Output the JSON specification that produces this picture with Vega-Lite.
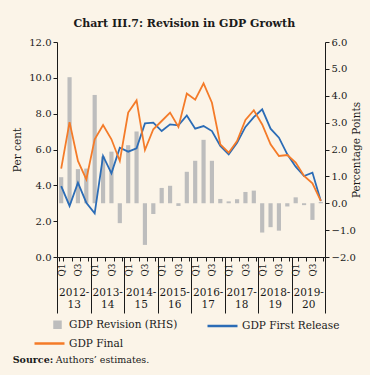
{
  "$schema": "https://vega.github.io/schema/vega-lite/v6.json",
  "background": "#FBF4E8",
  "padding": {"left": 12, "top": 18, "right": 8, "bottom": 4},
  "title": {"text": "Chart III.7: Revision in GDP Growth", "fontSize": 11, "fontWeight": "bold", "font": "DejaVu Serif", "anchor": "middle", "offset": 8, "dx": -3, "color": "#1a1a1a"},
  "spacing": 6,
  "resolve": {"scale": {"color": "independent"}, "legend": {"color": "independent"}},
  "vconcat": [
    {
      "width": 268,
      "height": 215,
      "data": {"values": [
        {"q": "2012-13 Q1", "year": "2012-13", "first": 3.96, "final": 4.93, "rev": 0.97},
        {"q": "2012-13 Q2", "year": "2012-13", "first": 2.85, "final": 7.53, "rev": 4.69},
        {"q": "2012-13 Q3", "year": "2012-13", "first": 4.15, "final": 5.36, "rev": 1.27},
        {"q": "2012-13 Q4", "year": "2012-13", "first": 3.03, "final": 4.33, "rev": 1.29},
        {"q": "2013-14 Q1", "year": "2013-14", "first": 2.44, "final": 6.57, "rev": 4.03},
        {"q": "2013-14 Q2", "year": "2013-14", "first": 5.64, "final": 7.37, "rev": 1.74},
        {"q": "2013-14 Q3", "year": "2013-14", "first": 4.67, "final": 6.57, "rev": 1.92},
        {"q": "2013-14 Q4", "year": "2013-14", "first": 6.1, "final": 5.36, "rev": -0.74},
        {"q": "2014-15 Q1", "year": "2014-15", "first": 5.88, "final": 8.06, "rev": 2.16},
        {"q": "2014-15 Q2", "year": "2014-15", "first": 6.07, "final": 8.74, "rev": 2.67},
        {"q": "2014-15 Q3", "year": "2014-15", "first": 7.46, "final": 5.97, "rev": -1.55},
        {"q": "2014-15 Q4", "year": "2014-15", "first": 7.5, "final": 7.13, "rev": -0.4},
        {"q": "2015-16 Q1", "year": "2015-16", "first": 7.03, "final": 7.59, "rev": 0.57},
        {"q": "2015-16 Q2", "year": "2015-16", "first": 7.4, "final": 8.06, "rev": 0.65},
        {"q": "2015-16 Q3", "year": "2015-16", "first": 7.35, "final": 7.26, "rev": -0.1},
        {"q": "2015-16 Q4", "year": "2015-16", "first": 7.9, "final": 9.12, "rev": 1.17},
        {"q": "2016-17 Q1", "year": "2016-17", "first": 7.16, "final": 8.78, "rev": 1.58},
        {"q": "2016-17 Q2", "year": "2016-17", "first": 7.31, "final": 9.69, "rev": 2.36},
        {"q": "2016-17 Q3", "year": "2016-17", "first": 7.03, "final": 8.61, "rev": 1.58},
        {"q": "2016-17 Q4", "year": "2016-17", "first": 6.2, "final": 6.29, "rev": 0.16},
        {"q": "2017-18 Q1", "year": "2017-18", "first": 5.73, "final": 5.82, "rev": 0.07},
        {"q": "2017-18 Q2", "year": "2017-18", "first": 6.38, "final": 6.47, "rev": 0.15},
        {"q": "2017-18 Q3", "year": "2017-18", "first": 7.26, "final": 7.65, "rev": 0.42},
        {"q": "2017-18 Q4", "year": "2017-18", "first": 7.81, "final": 8.19, "rev": 0.47},
        {"q": "2018-19 Q1", "year": "2018-19", "first": 8.24, "final": 7.4, "rev": -1.09},
        {"q": "2018-19 Q2", "year": "2018-19", "first": 7.16, "final": 6.29, "rev": -0.89},
        {"q": "2018-19 Q3", "year": "2018-19", "first": 6.66, "final": 5.64, "rev": -1.02},
        {"q": "2018-19 Q4", "year": "2018-19", "first": 5.73, "final": 5.69, "rev": -0.12},
        {"q": "2019-20 Q1", "year": "2019-20", "first": 5.04, "final": 5.27, "rev": 0.22},
        {"q": "2019-20 Q2", "year": "2019-20", "first": 4.52, "final": 4.52, "rev": -0.07},
        {"q": "2019-20 Q3", "year": "2019-20", "first": 4.71, "final": 4.11, "rev": -0.62},
        {"q": "2019-20 Q4", "year": "2019-20", "first": 3.13, "final": 3.13, "rev": 0.05}
      ]},
      "layer": [
        {
          "layer": [
            {
              "mark": {"type": "bar"},
              "encoding": {
                "x": {"field": "q", "type": "nominal", "sort": null,
                  "scale": {"paddingInner": 0.5, "paddingOuter": 0.25},
                  "axis": {"orient": "bottom", "title": null, "tickBand": "extent", "tickSize": 4, "labelAngle": 270,
                    "labelExpr": "slice(datum.label,-2)=='Q1' || slice(datum.label,-2)=='Q3' ? slice(datum.label,-2) : ''",
                    "labelFontSize": 9, "labelPadding": 2, "labelOverlap": false}},
                "y": {"field": "rev", "type": "quantitative", "scale": {"domain": [-2, 6], "nice": false, "zero": false},
                  "axis": {"orient": "right", "values": [-2, -1, 0, 1, 2, 3, 4, 5, 6], "format": ".1f", "title": "Percentage Points", "titleAngle": 270, "tickSize": 4, "titlePadding": 6}},
                "color": {"datum": "rev", "type": "nominal",
                  "scale": {"domain": ["rev", "first", "final"], "range": ["#BDBDBD", "#2B6CB6", "#F47B29"]},
                  "legend": {"orient": "none", "direction": "horizontal", "legendX": -6, "legendY": 276, "columns": 2, "title": null, "columnPadding": 24, "rowPadding": 4,
                    "labelOffset": 5, "symbolSize": 100,
                    "labelExpr": "datum.value == 'rev' ? 'GDP Revision (RHS)' : (datum.value == 'first' ? 'GDP First Release' : 'GDP Final')",
                    "encode": {"symbols": {"update": {
                      "shape": {"signal": "datum.value == 'rev' ? 'M-0.6,-0.6H0.6V0.6H-0.6Z' : 'M-4.6,0H1.4'"},
                      "size": {"value": 100},
                      "fill": {"signal": "datum.value == 'rev' ? '#BDBDBD' : 'transparent'"},
                      "stroke": {"signal": "datum.value == 'rev' ? 'transparent' : (datum.value == 'first' ? '#2B6CB6' : '#F47B29')"},
                      "strokeWidth": {"value": 2.5},
                      "opacity": {"value": 1}
                    }}}}}
              }
            },
            {
              "transform": [{"fold": ["first", "final"], "as": ["key", "value"]}],
              "mark": {"type": "line", "strokeWidth": 1.8},
              "encoding": {
                "x": {"field": "q", "type": "nominal", "sort": null},
                "y": {"field": "value", "type": "quantitative", "scale": {"domain": [0, 12], "nice": false},
                  "axis": {"orient": "left", "values": [0, 2, 4, 6, 8, 10, 12], "format": ".1f", "title": "Per cent", "tickSize": 4, "titlePadding": 6}},
                "color": {"field": "key", "type": "nominal", "legend": {"title": null}}
              }
            }
          ],
          "resolve": {"scale": {"y": "independent"}}
        },
        {
          "mark": {"type": "point", "opacity": 0},
          "encoding": {
            "x": {"field": "year", "type": "nominal", "sort": null,
              "scale": {"type": "band", "paddingInner": 0, "paddingOuter": 0},
              "axis": {"orient": "bottom", "title": null, "domain": false, "tickBand": "extent", "tickSize": 56,
                "labelAngle": 0, "labelExpr": "[slice(datum.label,0,5), slice(datum.label,5)]",
                "labelPadding": -26, "labelFontSize": 10.5, "labelLineHeight": 12.5, "labelBaseline": "top", "labelOverlap": false}}
          }
        }
      ],
      "resolve": {"scale": {"x": "independent"}}
    },
    {
      "spacing": -6,
      "hconcat": [
        {"data": {"values": [{}]}, "mark": {"type": "point", "opacity": 0}, "width": 1, "height": 1,
         "title": {"text": "Source:", "fontWeight": "bold", "fontSize": 9.5, "anchor": "start", "offset": 0, "dx": -42}},
        {"data": {"values": [{}]}, "mark": {"type": "point", "opacity": 0}, "width": 1, "height": 1,
         "title": {"text": "Authors’ estimates.", "fontWeight": "normal", "fontSize": 9.5, "anchor": "start", "offset": 0, "dx": -42}}
      ]
    }
  ],
  "config": {
    "font": "DejaVu Serif",
    "view": {"stroke": null},
    "axis": {"labelFont": "DejaVu Serif", "titleFont": "DejaVu Serif", "labelColor": "#1a1a1a", "titleColor": "#1a1a1a",
      "domainColor": "#1a1a1a", "tickColor": "#1a1a1a", "grid": false, "labelFontSize": 10, "titleFontSize": 10.5, "titleFontWeight": "normal"},
    "legend": {"labelFont": "DejaVu Serif", "labelFontSize": 10.5, "labelColor": "#1a1a1a"},
    "title": {"font": "DejaVu Serif", "color": "#1a1a1a"}
  }
}
